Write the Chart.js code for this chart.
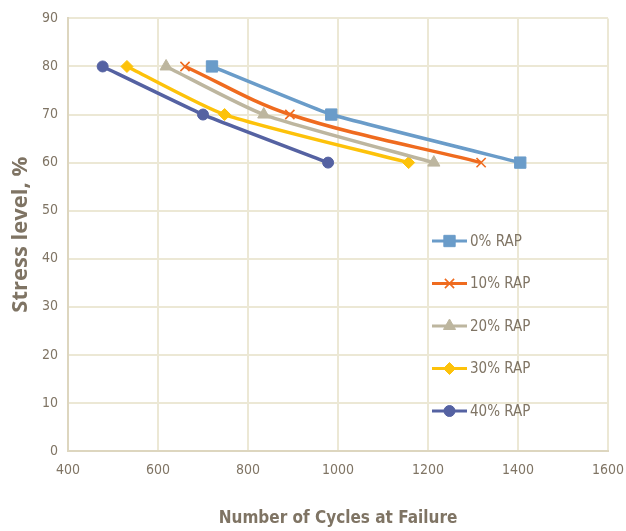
<!DOCTYPE html>
<html>
<head>
<meta charset="utf-8">
<script src="https://cdn.jsdelivr.net/npm/chart.js@4/dist/chart.umd.min.js"></script>
<style>
  html, body { margin: 0; padding: 0; background: #fff; }
  canvas { display: block; }
</style>
</head>
<body>
<canvas id="chartFatigue" width="626" height="531"></canvas>
<script>
// stress levels tested, %
const stressLevels = [80, 70, 60];

// cycles to failure for each RAP content
const seriesNames = ['0% RAP', '10% RAP', '20% RAP', '30% RAP', '40% RAP'];
const cyclesRap0  = [720, 985, 1405];
const cyclesRap10 = [660, 893, 1318];
const cyclesRap20 = [618, 835, 1213];
const cyclesRap30 = [531, 748, 1157];
const cyclesRap40 = [477, 700, 978];

const xTicks = [400, 600, 800, 1000, 1200, 1400, 1600];
const yTicks = [0, 10, 20, 30, 40, 50, 60, 70, 80, 90];

const textColor = '#7f7464';
const gridColor = '#ece8d5';
const narrow = '"Liberation Sans Narrow", "DejaVu Sans Condensed", sans-serif';

function toPoints(xs) {
    return xs.map(function (x, i) { return { x: x, y: stressLevels[i] }; });
}

const styles = [
    { color: '#6a9cc9', point: 'rect',     radius: 8,   tension: 0.1 },
    { color: '#ef6b1f', point: 'crossRot', radius: 6.5, tension: 0.35 },
    { color: '#bdb69f', point: 'triangle', radius: 7,   tension: 0.2 },
    { color: '#fdc20a', point: 'rectRot',  radius: 6,   tension: 0.2 },
    { color: '#5562a2', point: 'circle',   radius: 5.5, tension: 0.1 }
];
const allCycles = [cyclesRap0, cyclesRap10, cyclesRap20, cyclesRap30, cyclesRap40];

const datasets = allCycles.map(function (xs, i) {
    const s = styles[i];
    return {
        label: seriesNames[i],
        data: toPoints(xs),
        borderColor: s.color,
        backgroundColor: s.color,
        borderWidth: 3.5,
        pointStyle: s.point,
        pointRadius: s.radius,
        pointBorderWidth: s.point === 'crossRot' ? 1.6 : 1,
        pointBorderColor: s.color,
        pointBackgroundColor: s.color,
        tension: s.tension
    };
});

// legend drawn inside the plot, line sample with marker through it
const insideLegend = {
    id: 'insideLegend',
    afterDatasetsDraw(chart) {
        const ctx = chart.ctx;
        const x0 = 432, x1 = 467, top = 241, step = 42.5;
        ctx.save();
        chart.data.datasets.forEach(function (ds, i) {
            const y = top + i * step;
            ctx.strokeStyle = ds.borderColor;
            ctx.lineWidth = 3;
            ctx.beginPath();
            ctx.moveTo(x0, y);
            ctx.lineTo(x1, y);
            ctx.stroke();
            ctx.fillStyle = ds.backgroundColor;
            ctx.strokeStyle = ds.borderColor;
            ctx.lineWidth = ds.pointBorderWidth;
            Chart.helpers.drawPoint(ctx, {
                pointStyle: ds.pointStyle,
                radius: ds.pointRadius,
                rotation: 0,
                borderWidth: ds.pointBorderWidth
            }, (x0 + x1) / 2, y);
            ctx.fillStyle = textColor;
            ctx.font = '15px ' + narrow;
            ctx.textAlign = 'left';
            ctx.textBaseline = 'middle';
            ctx.fillText(ds.label, x1 + 3, y + 1);
        });
        ctx.restore();
    }
};

new Chart(document.getElementById('chartFatigue'), {
    type: 'line',
    data: { datasets: datasets },
    plugins: [insideLegend],
    options: {
        responsive: false,
        animation: false,
        layout: { padding: { top: 18, right: 18, left: 0, bottom: 0 } },
        plugins: {
            legend: { display: false },
            tooltip: { enabled: false }
        },
        scales: {
            x: {
                type: 'linear',
                min: 400,
                max: 1600,
                afterBuildTicks: function (axis) {
                    axis.ticks = xTicks.map(function (v) { return { value: v }; });
                },
                afterFit: function (axis) {
                    axis.height = 80;
                    axis.paddingLeft = 0;
                    axis.paddingRight = 0;
                },
                grid: { color: gridColor, lineWidth: 2, drawTicks: false },
                border: { color: '#ddd6bf', width: 2 },
                ticks: {
                    color: textColor,
                    padding: 11,
                    maxRotation: 0,
                    callback: function (v) { return String(v); },
                    font: { family: narrow, size: 14 }
                },
                title: {
                    display: true,
                    text: 'Number of Cycles at Failure',
                    color: textColor,
                    padding: { top: 0, bottom: 2 },
                    font: { family: narrow, size: 17, weight: 'bold' }
                }
            },
            y: {
                min: 0,
                max: 90,
                afterBuildTicks: function (axis) {
                    axis.ticks = yTicks.map(function (v) { return { value: v }; });
                },
                afterFit: function (axis) { axis.width = 68; },
                grid: { color: gridColor, lineWidth: 2, drawTicks: false },
                border: { color: '#ddd6bf', width: 2 },
                ticks: {
                    color: textColor,
                    padding: 10,
                    callback: function (v) { return String(v); },
                    font: { family: narrow, size: 14 }
                },
                title: {
                    display: true,
                    text: 'Stress level, %',
                    color: textColor,
                    padding: { top: 8, bottom: 0 },
                    font: { family: '"Open Sans", sans-serif', size: 22, weight: 'bold' }
                }
            }
        }
    }
});
</script>
</body>
</html>
